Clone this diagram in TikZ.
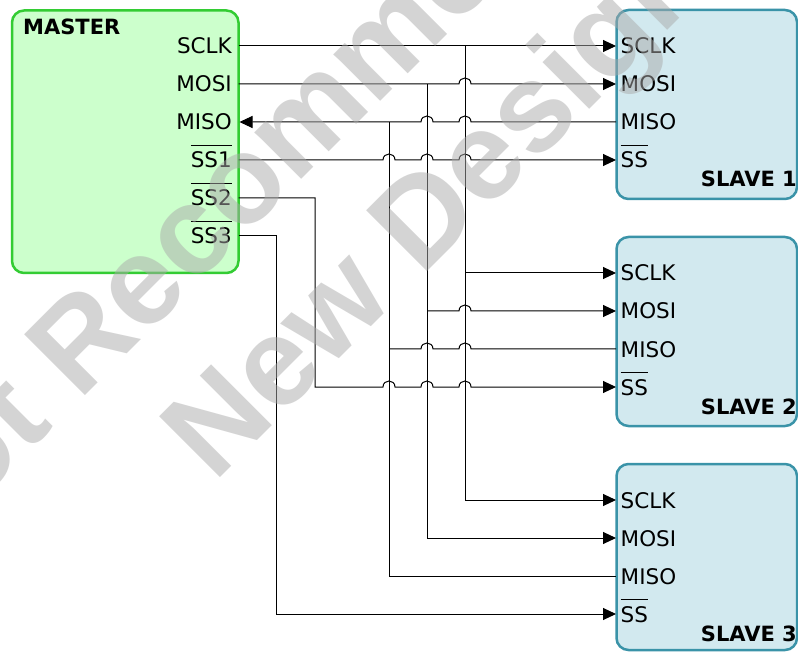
\documentclass[tikz,border=0pt]{standalone}
\usepackage{fontspec}
\setmainfont{DejaVu Sans}
\newfontfamily\wmfont{Liberation Sans}
\usetikzlibrary{arrows.meta}
\definecolor{mfill}{HTML}{CCFFCC}
\definecolor{mdraw}{HTML}{33CC33}
\definecolor{sfill}{HTML}{D2E9EF}
\definecolor{sdraw}{HTML}{3A93A8}
\definecolor{wmgray}{HTML}{AAAAAA}
\newcommand\ovl[1]{\setbox0\hbox{#1}\rlap{\raisebox{22pt}{\rule{\wd0}{1pt}}}\box0}
\begin{document}
\begin{tikzpicture}[x=1pt,y=-1pt,
 mbox/.style={draw=mdraw,fill=mfill,line width=2.5pt,rounded corners=12pt,inner sep=0pt},
 sbox/.style={draw=sdraw,fill=sfill,line width=2.5pt,rounded corners=12pt,inner sep=0pt,minimum width=180.5pt,minimum height=189pt},
 lbl/.style={font=\fontsize{21.5}{24}\selectfont,inner sep=0pt},
 ttl/.style={font=\fontsize{21}{24}\selectfont\bfseries,inner sep=0pt},
 wire/.style={line width=1pt},
 arr/.style={-{Triangle[length=13pt,width=12pt]}},
 rarr/.style={{Triangle[length=13pt,width=12pt]}-},
 hop/.style 2 args={insert path={-- (#1-6,#2) .. controls (#1-6,#2-8) and (#1+6,#2-8) .. (#1+6,#2)}},
 wm/.style={font=\wmfont\fontsize{125}{150}\selectfont\bfseries, text=wmgray, opacity=0.5, rotate=45, inner sep=0pt, anchor=base}
]
\useasboundingbox (0,0) rectangle (798,652);
\fill[white] (0,0) rectangle (798,652);

% boxes
\node[mbox,minimum width=226.5pt,minimum height=262.5pt] (master) at (125.25,141.75) {};
\node[sbox] (slave1) at (706.75,104.5) {};
\node[sbox] (slave2) at (706.75,331.5) {};
\node[sbox,minimum height=186pt] (slave3) at (706.75,557) {};

% titles
\node[ttl,anchor=base west] (mt) at (23,35) {MASTER};
\node[ttl,anchor=base east] (t1) at (797,187) {SLAVE 1};
\node[ttl,anchor=base east] (t2) at (797,414) {SLAVE 2};
\node[ttl,anchor=base east] (t3) at (797,641) {SLAVE 3};

% master pin labels
\node[lbl,anchor=base east] (l-sclk) at (232,54) {SCLK};
\node[lbl,anchor=base east] (l-mosi) at (232,92) {MOSI};
\node[lbl,anchor=base east] (l-miso) at (232,130) {MISO};
\node[lbl,anchor=base east] (l-ss1) at (232,168) {\ovl{SS1}};
\node[lbl,anchor=base east] (l-ss2) at (232,206) {\ovl{SS2}};
\node[lbl,anchor=base east] (l-ss3) at (232,244) {\ovl{SS3}};

% slave pin labels
\foreach \k/\o in {1/0,2/227,3/454}{
  \node[lbl,anchor=base west] (s\k-l1) at (620.5,54+\o) {SCLK};
  \node[lbl,anchor=base west] (s\k-l2) at (620.5,92+\o) {MOSI};
  \node[lbl,anchor=base west] (s\k-l3) at (620.5,130+\o) {MISO};
  \node[lbl,anchor=base west] (s\k-l4) at (620.5,168+\o) {\ovl{SS}};
  \coordinate (s\k-sclk) at (616,46+\o);
  \coordinate (s\k-mosi) at (616,84+\o);
  \coordinate (s\k-miso) at (616,122+\o);
  \coordinate (s\k-ss) at (616,160+\o);
}

% master pins
\coordinate (m-sclk) at (238.5,46);
\coordinate (m-mosi) at (238.5,84);
\coordinate (m-miso) at (239.5,122);
\coordinate (m-ss1) at (238.5,160);
\coordinate (m-ss2) at (238.5,198);
\coordinate (m-ss3) at (238.5,236);

% junctions and corners
\coordinate (j-sclk) at (465,46);
\coordinate (j-mosi) at (427,84);
\coordinate (j-miso) at (389,122);
\coordinate (c-ss2) at (315,387);
\coordinate (c-ss3) at (276,614);

% SCLK
\draw[wire,arr] (m-sclk) -- (s1-sclk);
\draw[wire,arr] (j-sclk |- s2-sclk) -- (s2-sclk);
\draw[wire,arr] (j-sclk) |- (s3-sclk);
% MOSI
\draw[wire,arr] (m-mosi) [hop={465}{84}] -- (s1-mosi);
\draw[wire,arr] (j-mosi |- s2-mosi) [hop={465}{311}] -- (s2-mosi);
\draw[wire,arr] (j-mosi) |- (s3-mosi);
% MISO
\draw[wire,rarr] (m-miso) [hop={427}{122}] [hop={465}{122}] -- (s1-miso);
\draw[wire] (j-miso |- s2-miso) [hop={427}{349}] [hop={465}{349}] -- (s2-miso);
\draw[wire] (j-miso) |- (s3-miso);
% SS
\draw[wire,arr] (m-ss1) [hop={389}{160}] [hop={427}{160}] [hop={465}{160}] -- (s1-ss);
\draw[wire,arr] (m-ss2) -| (c-ss2) [hop={389}{387}] [hop={427}{387}] [hop={465}{387}] -- (s2-ss);
\draw[wire,arr] (m-ss3) -| (c-ss3) -- (s3-ss);

% watermark
\node[wm] (wm1) at (382,99.7) {Not Recommended for};
\node[wm] (wm2) at (490,208.3) {New Designs};
\end{tikzpicture}
\end{document}
